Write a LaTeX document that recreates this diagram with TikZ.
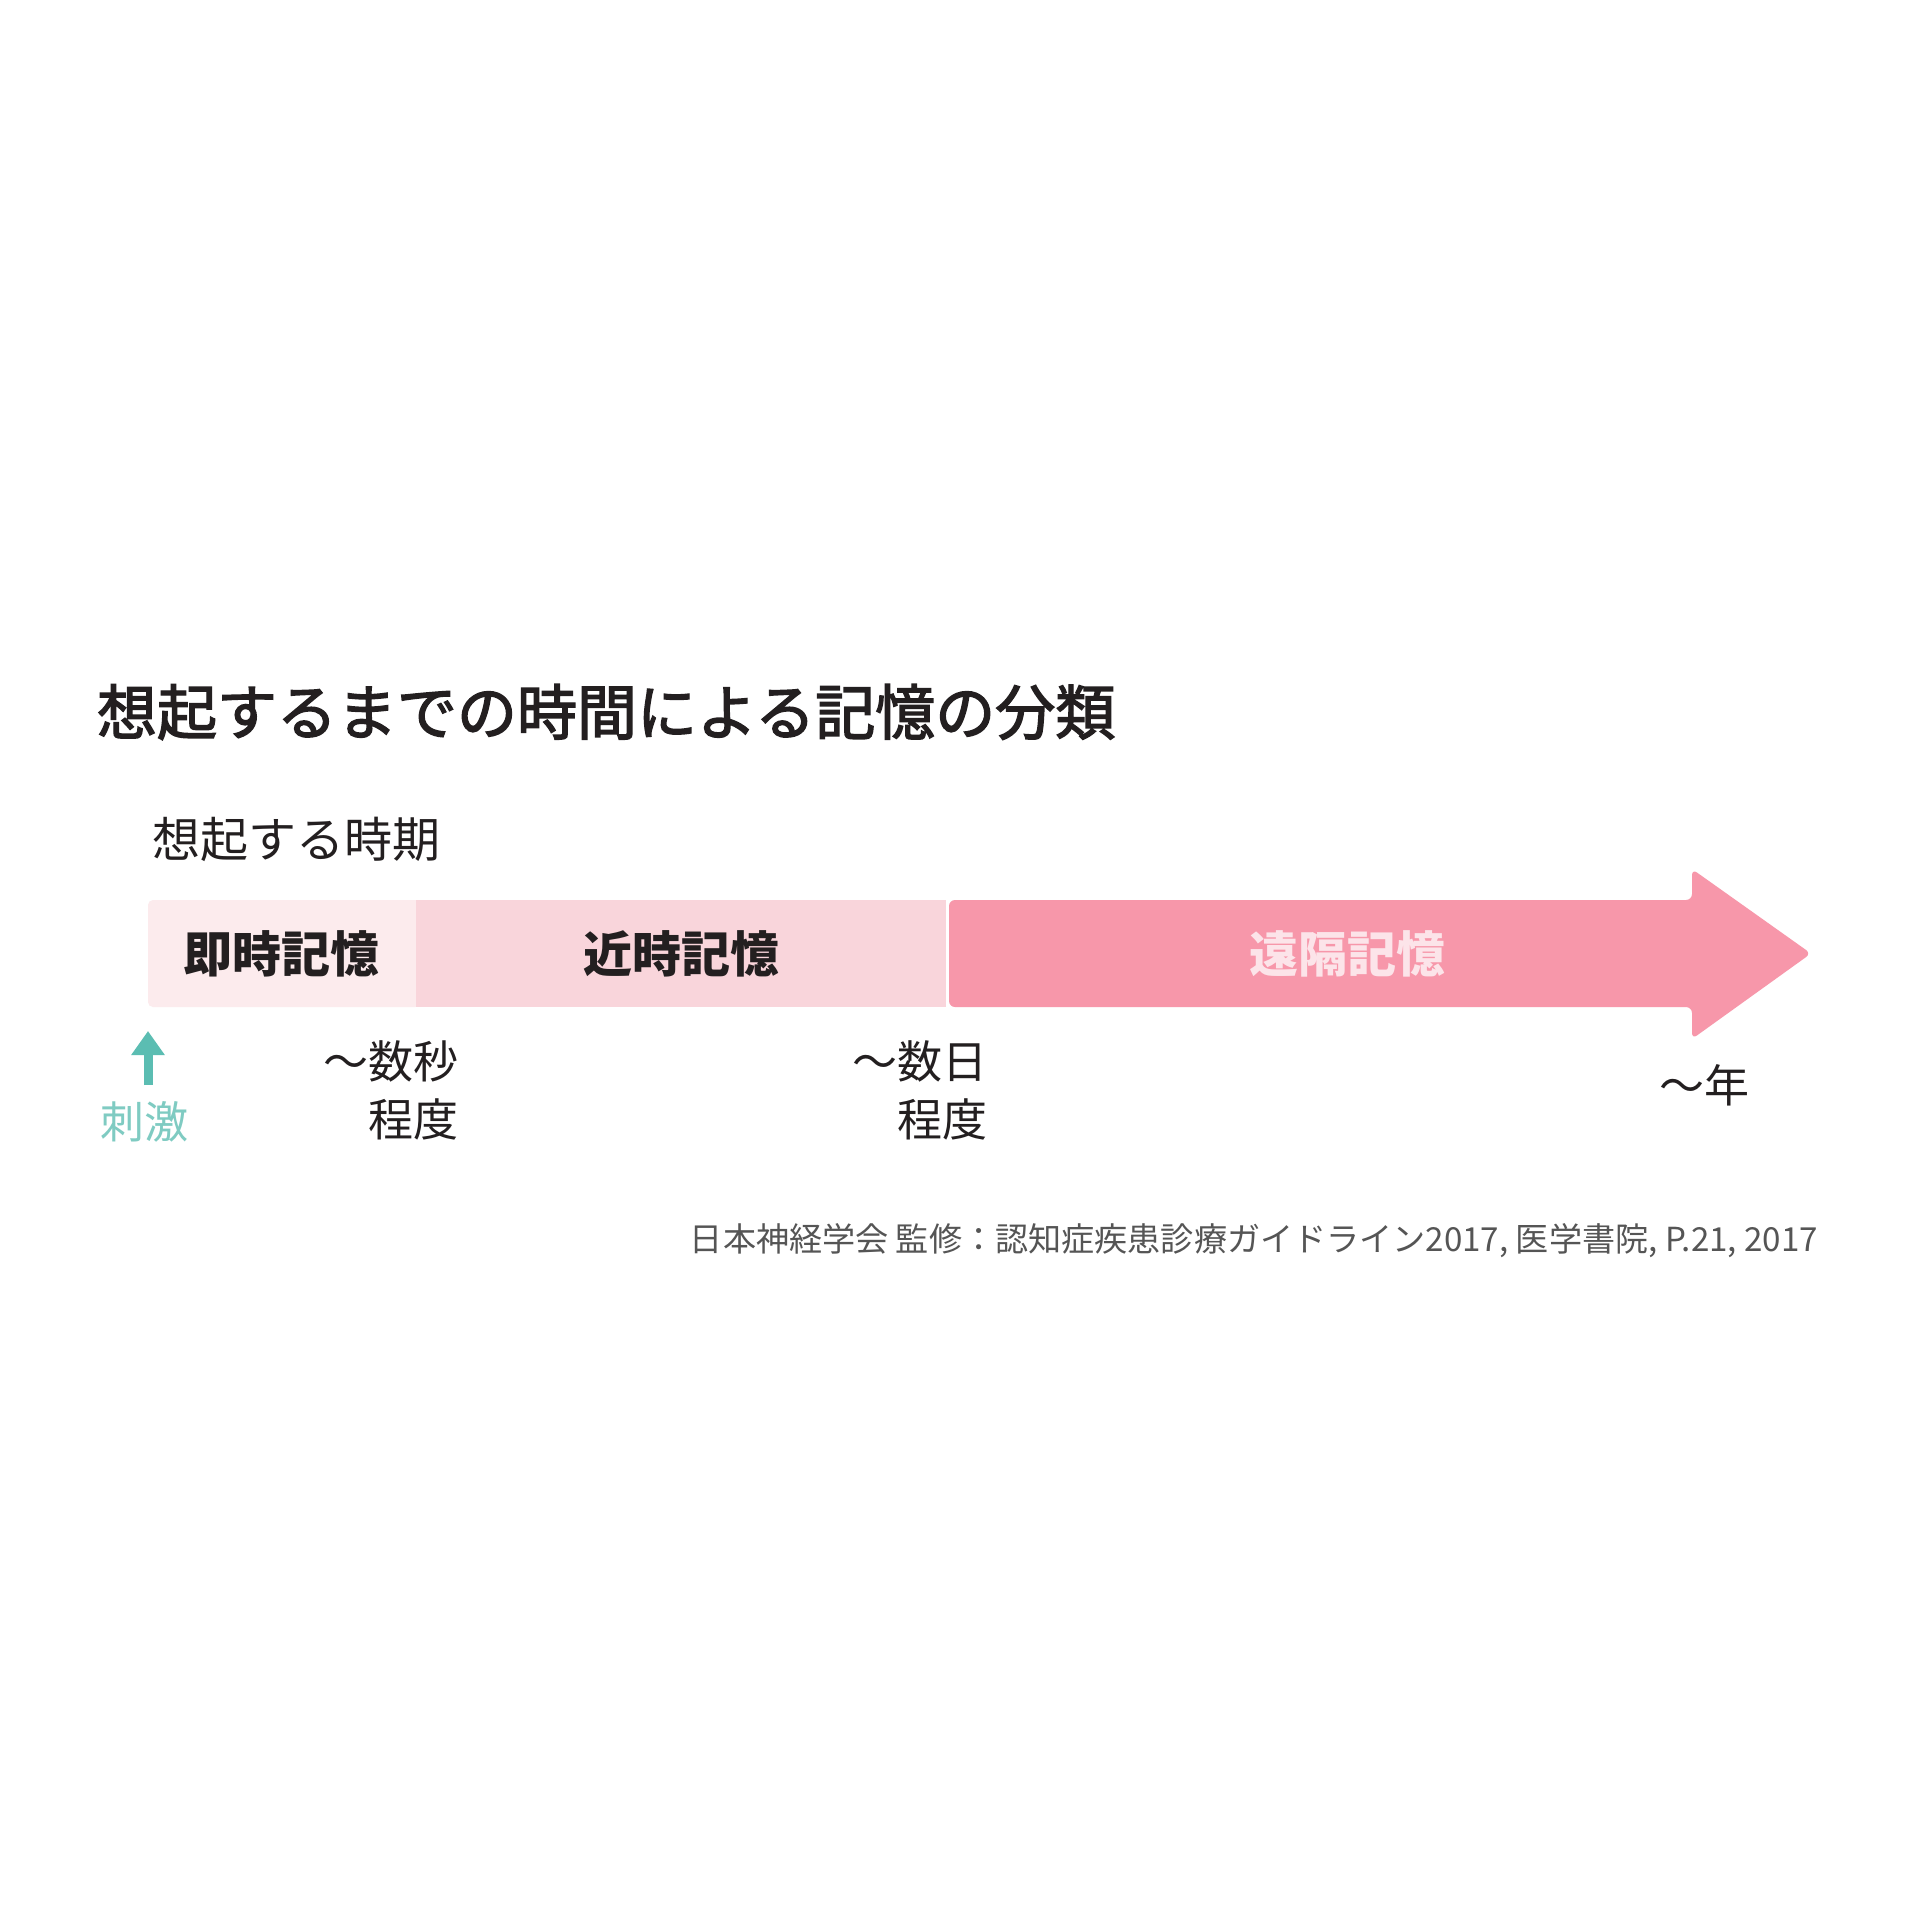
\documentclass[tikz,border=0pt]{standalone}
\usepackage{fontspec}
\setmainfont{Noto Sans CJK JP}
\newfontfamily\titlefont[FakeBold=2.4]{Noto Sans CJK JP}
\usetikzlibrary{arrows.meta}
\definecolor{segA}{HTML}{FCEBED}
\definecolor{segB}{HTML}{F9D5DB}
\definecolor{segC}{HTML}{F797AA}
\definecolor{segCtext}{HTML}{FCE4E9}
\definecolor{teal}{HTML}{5BBDB2}
\definecolor{tealtext}{HTML}{7FCBC2}
\definecolor{ink}{HTML}{231F20}
\definecolor{cite}{HTML}{555555}
\begin{document}
\begin{tikzpicture}[x=1pt,y=-1pt,
  every node/.style={inner sep=0pt,outer sep=0pt,text=ink},
  segbox/.style={minimum height=107pt,anchor=north west,draw=none},
  seglabel/.style={font=\fontsize{49}{49}\selectfont\bfseries},
  timelabel/.style={font=\fontsize{45}{58}\selectfont,align=right,anchor=east},
  stimarrow/.style={draw=teal,line width=9pt,-{Triangle[width=32pt,length=24pt]}}
]
\useasboundingbox[fill=white] (0,0) rectangle (1920,1920);

\node[anchor=west,font=\fontsize{60}{60}\titlefont] (title) at (97,712) {想起するまでの時間による記憶の分類};
\node[anchor=west,font=\fontsize{48}{48}\selectfont] (sub) at (152,839) {想起する時期};

\fill[segA,rounded corners=5pt] (148,900) rectangle (420,1007);
\node[segbox,fill=segA,minimum width=260pt] (immbox) at (156,900) {};
\node[segbox,fill=segB,minimum width=530pt] (recbox) at (416,900) {};
\fill[segC,rounded corners=6pt] (949,900) -- (1692,900) -- (1692,869) -- (1811,953.5) -- (1692,1039) -- (1692,1007) -- (949,1007) -- cycle;
\coordinate (remtip) at (1811,953.5);

\node[seglabel] at (281,953.5) (imm) {即時記憶};
\node[seglabel] (rec) at (recbox.center) {近時記憶};
\node[seglabel,text=segCtext] (rem) at (1347,953.5) {遠隔記憶};

\coordinate (s0) at (148,1085);
\coordinate (s1) at (148,1031);
\draw[stimarrow] (s0) -- (s1);
\node[font=\fontsize{44}{44}\selectfont,text=tealtext] (stim) at (144,1122) {刺激};

\node[timelabel] (t1) at (458,1090) {〜数秒\\程度};
\node[timelabel] (t2) at (987,1090) {〜数日\\程度};
\node[timelabel] (t3) at (1749,1085) {〜年};

\node[anchor=east,text=cite] (src) at (1818,1241) {\resizebox{1128pt}{!}{\fontsize{32}{32}\selectfont 日本神経学会 監修：認知症疾患診療ガイドライン2017, 医学書院, P.21, 2017}};
\end{tikzpicture}
\end{document}
